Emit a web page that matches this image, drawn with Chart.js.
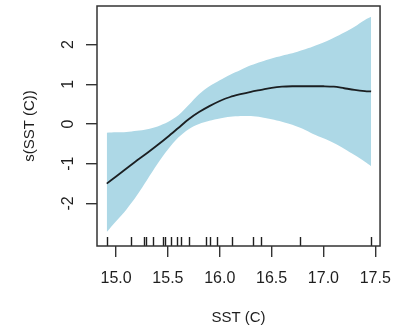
<!DOCTYPE html>
<html>
<head>
<meta charset="utf-8">
<script src="https://cdn.jsdelivr.net/npm/chart.js@4.4.1/dist/chart.umd.min.js"></script>
<style>
  html, body { margin: 0; padding: 0; background: #ffffff; }
  #wrap { width: 403px; height: 330px; }
</style>
</head>
<body>
<div id="wrap"><canvas id="c" width="403" height="330"></canvas></div>
<script>
// Smooth term of sea surface temperature with its confidence band
const sstGrid = [14.91, 15.0, 15.1, 15.2, 15.3, 15.4, 15.5, 15.6, 15.7, 15.8, 15.9, 16.0, 16.1,
                 16.2, 16.3, 16.4, 16.5, 16.6, 16.7, 16.8, 16.9, 17.0, 17.1, 17.2, 17.3, 17.4, 17.46];
const fitValues = [-1.50, -1.32, -1.12, -0.92, -0.73, -0.53, -0.32, -0.10, 0.12, 0.30, 0.45, 0.58, 0.68,
                   0.75, 0.81, 0.86, 0.91, 0.94, 0.95, 0.95, 0.95, 0.95, 0.94, 0.90, 0.86, 0.83, 0.82];
const upperValues = [-0.22, -0.21, -0.20, -0.17, -0.13, -0.06, 0.05, 0.22, 0.48, 0.75, 0.95, 1.10, 1.24,
                     1.36, 1.48, 1.57, 1.65, 1.72, 1.78, 1.86, 1.95, 2.05, 2.17, 2.30, 2.45, 2.62, 2.70];
const lowerValues = [-2.72, -2.45, -2.15, -1.80, -1.40, -1.00, -0.64, -0.34, -0.13, 0.00, 0.08, 0.14, 0.18,
                     0.20, 0.20, 0.17, 0.12, 0.06, -0.02, -0.12, -0.25, -0.36, -0.48, -0.62, -0.78, -0.95, -1.06];
// Observed SST values shown as a rug along the x axis
const rugSST = [14.91, 15.14, 15.27, 15.29, 15.36, 15.45, 15.47, 15.53, 15.59, 15.63, 15.70,
                15.87, 15.91, 15.97, 16.12, 16.32, 16.40, 16.77, 17.46];
const xTickValues = [15.0, 15.5, 16.0, 16.5, 17.0, 17.5];
const yTickValues = [-2, -1, 0, 1, 2];
const xTitle = 'SST (C)';
const yTitle = 's(SST (C))';

const FONT = '"Liberation Sans", Arial, Helvetica, sans-serif';
const INK = '#1e1e1e';

const toPoints = vals => sstGrid.map((x, i) => ({ x: x, y: vals[i] }));

const frame = {
  id: 'frame',
  afterDraw(chart) {
    const ctx = chart.ctx;
    const a = chart.chartArea;
    const xs = chart.scales.x, ys = chart.scales.y;
    ctx.save();
    // rug of observations
    ctx.strokeStyle = INK;
    ctx.lineWidth = 1.4;
    rugSST.forEach(v => {
      const px = Math.round(xs.getPixelForValue(v)) + 0.5;
      ctx.beginPath();
      ctx.moveTo(px, a.bottom);
      ctx.lineTo(px, a.bottom - 9);
      ctx.stroke();
    });
    // box around the panel
    ctx.strokeStyle = '#333333';
    ctx.lineWidth = 1.5;
    ctx.strokeRect(a.left, a.top, a.right - a.left, a.bottom - a.top);
    // y tick labels, written along the axis
    ctx.fillStyle = INK;
    ctx.font = '16px ' + FONT;
    ctx.textAlign = 'center';
    ctx.textBaseline = 'alphabetic';
    yTickValues.forEach(v => {
      const py = ys.getPixelForValue(v);
      ctx.save();
      ctx.translate(73, py);
      ctx.rotate(-Math.PI / 2);
      ctx.fillText(String(v), 0, 0);
      ctx.restore();
    });
    // axis titles
    ctx.font = '15px ' + FONT;
    ctx.save();
    ctx.translate(34, (a.top + a.bottom) / 2);
    ctx.rotate(-Math.PI / 2);
    ctx.fillText(yTitle, 0, 0);
    ctx.restore();
    ctx.fillText(xTitle, (a.left + a.right) / 2, 322);
    ctx.restore();
  }
};

new Chart(document.getElementById('c'), {
  type: 'line',
  data: {
    datasets: [
      { label: 'upper', data: toPoints(upperValues), borderWidth: 0, pointRadius: 0, order: 2,
        backgroundColor: '#ADD8E6', borderColor: 'rgba(0,0,0,0)', fill: '+1', tension: 0.3 },
      { label: 'lower', data: toPoints(lowerValues), borderWidth: 0, pointRadius: 0, order: 1,
        borderColor: 'rgba(0,0,0,0)', fill: false, tension: 0.3 },
      { label: 'fit', data: toPoints(fitValues), borderWidth: 1.8, pointRadius: 0, order: 0,
        borderColor: '#1b1f22', fill: false, tension: 0.3 }
    ]
  },
  options: {
    responsive: false,
    animation: false,
    events: [],
    layout: { padding: { top: 6, right: 9, left: 0, bottom: 0 } },
    plugins: { legend: { display: false }, tooltip: { enabled: false } },
    scales: {
      x: {
        type: 'linear',
        min: 14.816,
        max: 17.546,
        afterBuildTicks: s => { s.ticks = xTickValues.map(v => ({ value: v })); },
        afterFit: s => { s.height = 84; },
        grid: { display: true, drawOnChartArea: false, drawTicks: true, tickLength: 11,
                color: '#333333', lineWidth: 1.4 },
        border: { display: false },
        ticks: {
          autoSkip: false, maxRotation: 0, minRotation: 0, padding: 12,
          color: INK, font: { family: FONT, size: 16 },
          callback: v => Number(v).toFixed(1)
        }
      },
      y: {
        type: 'linear',
        min: -3.07,
        max: 2.97,
        afterBuildTicks: s => { s.ticks = yTickValues.map(v => ({ value: v })); },
        afterFit: s => { s.width = 97; },
        grid: { display: true, drawOnChartArea: false, drawTicks: true, tickLength: 11,
                color: '#333333', lineWidth: 1.4 },
        border: { display: false },
        ticks: { display: false }
      }
    }
  },
  plugins: [frame]
});
</script>
</body>
</html>
